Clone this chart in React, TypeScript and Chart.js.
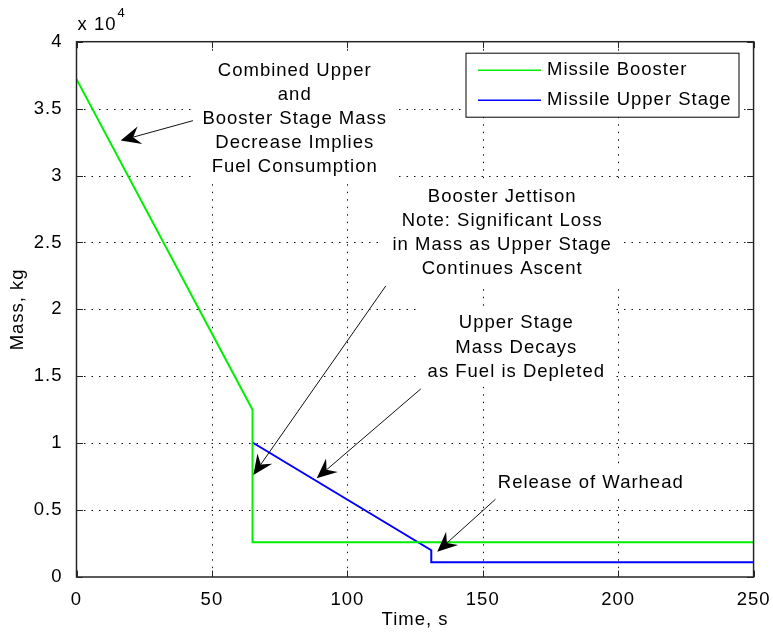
import React, { useEffect, useRef } from "react";
import { Chart, registerables } from "chart.js";

Chart.register(...registerables);

// ---- data ----
const timeBooster = [0, 65, 65, 250];
const massBooster = [37200, 12500, 2600, 2600];
const timeUpper = [65, 131, 131, 250];
const massUpper = [10050, 2000, 1100, 1100];
const seriesNames = ["Missile Booster", "Missile Upper Stage"];
const seriesColors = ["#00ee00", "#0000ff"];
const xMin = 0;
const xMax = 250;
const xStep = 50;
const yMin = 0;
const yMax = 40000;
const yStep = 5000;
const yExponent = 4;
const xTitle = "Time, s";
const yTitle = "Mass, kg";

const noteLines = [
  ["Combined Upper", "and", "Booster Stage Mass", "Decrease Implies", "Fuel Consumption"],
  ["Booster Jettison", "Note: Significant Loss", "in Mass as Upper Stage", "Continues Ascent"],
  ["Upper Stage", "Mass Decays", "as Fuel is Depleted"],
  ["Release of Warhead"],
];
const noteAnchorX = [80.4, 157.0, 162.2, 189.7];
const noteAnchorY = [37840, 28420, 18960, 7000];
const arrowTailX = [43.0, 114.2, 127.1, 154.7];
const arrowTailY = [34100, 21750, 14050, 5810];
const arrowTipX = [16.3, 65.3, 88.7, 133.2];
const arrowTipY = [32610, 7620, 7380, 1890];

const FONT = '"Liberation Sans", Arial, Helvetica, sans-serif';
const FSIZE = 18.5;
const LINE_H = 24.2;

function drawArrow(ctx: CanvasRenderingContext2D, x0: number, y0: number, x1: number, y1: number) {
  const dx = x1 - x0;
  const dy = y1 - y0;
  const len = Math.hypot(dx, dy);
  const ux = dx / len;
  const uy = dy / len;
  const px = -uy;
  const py = ux;
  const L = 20;
  const W = 9;
  const N = 13;
  ctx.beginPath();
  ctx.moveTo(x0, y0);
  ctx.lineTo(x1 - ux * N, y1 - uy * N);
  ctx.strokeStyle = "#111";
  ctx.lineWidth = 1;
  ctx.stroke();
  ctx.beginPath();
  ctx.moveTo(x1, y1);
  ctx.lineTo(x1 - ux * L + px * W, y1 - uy * L + py * W);
  ctx.lineTo(x1 - ux * N, y1 - uy * N);
  ctx.lineTo(x1 - ux * L - px * W, y1 - uy * L - py * W);
  ctx.closePath();
  ctx.fillStyle = "#000";
  ctx.fill();
}

const matlabPlugin = {
  id: "matlabStyle",
  beforeDraw(chart: any) {
    chart.ctx.letterSpacing = "1px";
  },
  beforeDatasetsDraw(chart: any) {
    const { ctx, chartArea: a, scales } = chart;
    const x = scales.x;
    const y = scales.y;
    ctx.save();
    ctx.strokeStyle = "#111";
    ctx.lineWidth = 1;
    ctx.setLineDash([1.5, 6]);
    for (const t of x.ticks) {
      if (t.value <= x.min || t.value >= x.max) continue;
      const p = Math.round(x.getPixelForValue(t.value)) + 0.5;
      ctx.beginPath();
      ctx.moveTo(p, a.top);
      ctx.lineTo(p, a.bottom);
      ctx.stroke();
    }
    for (const t of y.ticks) {
      if (t.value <= y.min || t.value >= y.max) continue;
      const p = Math.round(y.getPixelForValue(t.value)) + 0.5;
      ctx.beginPath();
      ctx.moveTo(a.left, p);
      ctx.lineTo(a.right, p);
      ctx.stroke();
    }
    ctx.setLineDash([]);
    ctx.font = `${FSIZE}px ${FONT}`;
    ctx.letterSpacing = "1px";
    noteLines.forEach((lines, i) => {
      const cx = x.getPixelForValue(noteAnchorX[i]);
      const cy = y.getPixelForValue(noteAnchorY[i]);
      const w = Math.max(...lines.map((l) => ctx.measureText(l).width));
      ctx.fillStyle = "#fff";
      ctx.fillRect(cx - w / 2 - 9, cy - 17, w + 18, (lines.length - 1) * LINE_H + 32);
    });
    ctx.restore();
  },
  afterDatasetsDraw(chart: any) {
    const { ctx, chartArea: a, scales } = chart;
    const x = scales.x;
    const y = scales.y;
    ctx.save();
    ctx.letterSpacing = "1px";
    // notes
    ctx.font = `${FSIZE}px ${FONT}`;
    ctx.fillStyle = "#000";
    ctx.textAlign = "center";
    ctx.textBaseline = "middle";
    noteLines.forEach((lines, i) => {
      const cx = x.getPixelForValue(noteAnchorX[i]);
      const cy = y.getPixelForValue(noteAnchorY[i]);
      lines.forEach((l, j) => ctx.fillText(l, cx + 0.5, cy + j * LINE_H));
    });
    // arrows
    for (let i = 0; i < arrowTailX.length; i++) {
      drawArrow(
        ctx,
        x.getPixelForValue(arrowTailX[i]),
        y.getPixelForValue(arrowTailY[i]),
        x.getPixelForValue(arrowTipX[i]),
        y.getPixelForValue(arrowTipY[i])
      );
    }
    // frame
    ctx.strokeStyle = "#262626";
    ctx.lineWidth = 1.5;
    ctx.strokeRect(a.left, a.top, a.right - a.left, a.bottom - a.top);
    // inward ticks
    const tl = 6.5;
    ctx.lineWidth = 1;
    ctx.beginPath();
    for (const t of x.ticks) {
      const p = Math.round(x.getPixelForValue(t.value)) + 0.5;
      ctx.moveTo(p, a.bottom);
      ctx.lineTo(p, a.bottom - tl);
      ctx.moveTo(p, a.top);
      ctx.lineTo(p, a.top + tl);
    }
    for (const t of y.ticks) {
      const p = Math.round(y.getPixelForValue(t.value)) + 0.5;
      ctx.moveTo(a.left, p);
      ctx.lineTo(a.left + tl, p);
      ctx.moveTo(a.right, p);
      ctx.lineTo(a.right - tl, p);
    }
    ctx.stroke();
    // legend
    const lx = a.left + 389.5;
    const ly = a.top + 11.5;
    const lw = 273;
    const lh = 64;
    ctx.fillStyle = "#fff";
    ctx.fillRect(lx, ly, lw, lh);
    ctx.strokeStyle = "#000";
    ctx.lineWidth = 1;
    ctx.strokeRect(lx, ly, lw, lh);
    ctx.textAlign = "left";
    ctx.textBaseline = "middle";
    ctx.font = `${FSIZE}px ${FONT}`;
    seriesNames.forEach((name, i) => {
      const ry = ly + 17 + i * 30;
      ctx.strokeStyle = seriesColors[i];
      ctx.lineWidth = 1.5;
      ctx.beginPath();
      ctx.moveTo(lx + 12, ry);
      ctx.lineTo(lx + 75, ry);
      ctx.stroke();
      ctx.fillStyle = "#000";
      ctx.fillText(name, lx + 81, ry);
    });
    // exponent label
    ctx.fillStyle = "#000";
    ctx.font = `${FSIZE}px ${FONT}`;
    ctx.textBaseline = "middle";
    const ex = a.left + 1;
    const ey = a.top - 16.5;
    ctx.fillText("x 10", ex, ey);
    const w10 = ctx.measureText("x 10").width;
    ctx.font = `13px ${FONT}`;
    ctx.fillText(String(yExponent), ex + w10 + 1, ey - 12);
    ctx.restore();
  },
};

export default function App() {
  const ref = useRef<HTMLCanvasElement | null>(null);
  useEffect(() => {
    const canvas = ref.current;
    if (!canvas) return;
    const chart = new Chart(canvas, {
      type: "line",
      data: {
        datasets: [
          {
            label: seriesNames[0],
            data: timeBooster.map((t, i) => ({ x: t, y: massBooster[i] })),
            borderColor: seriesColors[0],
            borderWidth: 2,
            pointRadius: 0,
            tension: 0,
            fill: false,
          },
          {
            label: seriesNames[1],
            data: timeUpper.map((t, i) => ({ x: t, y: massUpper[i] })),
            borderColor: seriesColors[1],
            borderWidth: 2,
            pointRadius: 0,
            tension: 0,
            fill: false,
          },
        ],
      },
      options: {
        animation: false,
        responsive: false,
        devicePixelRatio: 1,
        layout: { padding: { top: 41.7, right: 17, left: 0, bottom: 0 } },
        plugins: {
          legend: { display: false },
          tooltip: { enabled: false },
        },
        scales: {
          x: {
            type: "linear",
            min: xMin,
            max: xMax,
            grid: { display: false },
            border: { display: false },
            ticks: {
              stepSize: xStep,
              autoSkip: false,
              maxRotation: 0,
              padding: 4,
              color: "#000",
              font: { family: FONT, size: FSIZE },
            },
            title: {
              display: true,
              text: xTitle,
              color: "#000",
              font: { family: FONT, size: FSIZE },
              padding: { top: 0, bottom: 6 },
            },
            afterFit: (s: any) => {
              s.height = 60;
            },
          },
          y: {
            type: "linear",
            min: yMin,
            max: yMax,
            grid: { display: false },
            border: { display: false },
            ticks: {
              stepSize: yStep,
              autoSkip: false,
              padding: 6,
              color: "#000",
              font: { family: FONT, size: FSIZE },
              callback: (v: any) => String(Number(v) / Math.pow(10, yExponent)),
            },
            title: {
              display: true,
              text: yTitle,
              color: "#000",
              font: { family: FONT, size: FSIZE },
              padding: { top: 7, bottom: 0 },
            },
            afterFit: (s: any) => {
              s.width = 76.5;
            },
          },
        },
      },
      plugins: [matlabPlugin],
    });
    return () => chart.destroy();
  }, []);
  return (
    <div style={{ position: "fixed", left: 0, top: 0, width: 773, height: 637, background: "#fff" }}>
      <canvas ref={ref} width={773} height={637} style={{ display: "block" }} />
    </div>
  );
}
